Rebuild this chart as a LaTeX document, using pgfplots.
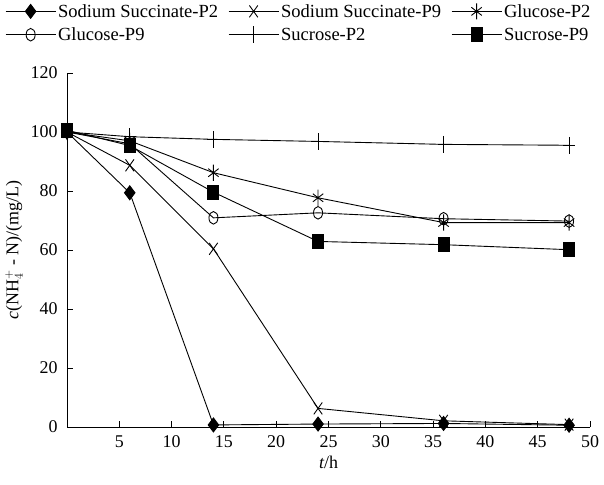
\documentclass[border=0pt]{standalone}
\usepackage{pgfplots}
\pgfplotsset{compat=1.18}
\usepackage{fontspec}
\setmainfont{Liberation Serif}
\pgfplotsset{mylegend/.style={legend image code/.code={\draw[mark repeat=2,mark phase=2,##1] plot coordinates {(0bp,0bp)(25bp,0bp)(50bp,0bp)};}}}
\begin{document}
\begin{tikzpicture}
\begin{axis}[
  at={(67bp,58bp)}, anchor=south west,
  scale only axis, width=523bp, height=354bp,
  xmin=0, xmax=50, ymin=0, ymax=120,
  axis lines=left, axis line style={-, line width=0.9pt},
  tick align=inside, major tick length=6bp,
  tick style={line width=0.9pt, black},
  xtick={5,10,...,50}, ytick={0,20,...,120},
  font=\fontsize{18}{21}\selectfont,
  tick label style={font=\fontsize{18}{21}\selectfont},
  xticklabel style={yshift=-5bp},
  yticklabel style={xshift=-6bp},
  /pgf/number format/assume math mode=true,
  xlabel={{\itshape t}/h},
  ylabel={{\itshape c}(NH$_4^{+}$ - N)/(mg/L)},
  xlabel style={yshift=-2bp},
  ylabel style={yshift=1bp},
  clip=false,
  legend columns=3,
  legend cell align=left,
  legend style={draw=none, fill=none, inner sep=0pt, at={(-62bp,425bp)}, anchor=north west,
    font=\fontsize{18.6}{22}\selectfont, row sep=5bp,
    nodes={inner sep=2bp},
    /tikz/every even column/.append style={column sep=8bp}},
  every axis plot/.append style={black, line width=0.9pt, mark options={solid}},
]
\addplot[mylegend, mark=diamond*, mark size=7bp] coordinates {(0,100)(6,79.4)(14,0.7)(24,1.0)(36,1.2)(48,0.6)};
\addlegendentry{Sodium Succinate-P2}
\addplot[mylegend, mark=x, mark size=6bp, mark options={yscale=1.4}] coordinates {(0,100)(6,88.7)(14,60.4)(24,6.3)(36,2.1)(48,0.8)};
\addlegendentry{Sodium Succinate-P9}
\addplot[mylegend, mark=asterisk, mark size=6bp, mark options={yscale=1.35}] coordinates {(0,100)(6,97)(14,86.2)(24,77.7)(36,69.3)(48,69.3)};
\addlegendentry{Glucose-P2}
\addplot[mylegend, mark=o, mark size=4.5bp, mark options={yscale=1.4, fill=white}] coordinates {(0,100)(6,96)(14,70.9)(24,72.6)(36,70.6)(48,69.8)};
\addlegendentry{Glucose-P9}
\addplot[mylegend, mark=+, mark size=6bp, mark options={yscale=1.4}] coordinates {(0,100)(6,98.4)(14,97.5)(24,96.8)(36,95.8)(48,95.5)};
\addlegendentry{Sucrose-P2}
\addplot[mylegend, mark=square*, mark size=5.5bp, mark options={yscale=1.25}] coordinates {(0,100.6)(6,95.4)(14,79.6)(24,62.9)(36,61.8)(48,60.1)};
\addlegendentry{Sucrose-P9}
\end{axis}
\pgfresetboundingbox
\path (0,0) rectangle (604bp,485bp);
\end{tikzpicture}
\end{document}
